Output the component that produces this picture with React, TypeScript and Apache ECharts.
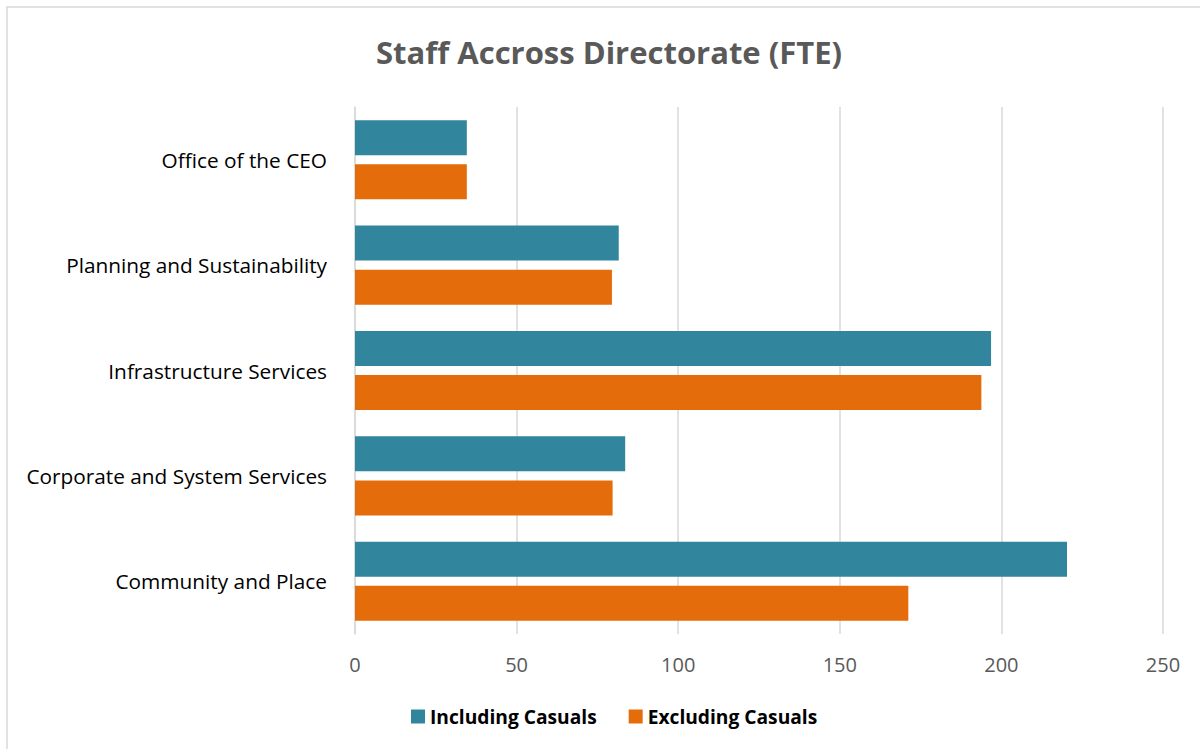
import React, { useEffect, useRef } from "react";
import * as echarts from "echarts";

const categories = [
  "Office of the CEO",
  "Planning and Sustainability",
  "Infrastructure Services",
  "Corporate and System Services",
  "Community and Place",
];
const includingCasuals = [34.6, 81.6, 196.8, 83.6, 220.3];
const excludingCasuals = [34.6, 79.5, 193.8, 79.7, 171.2];
const seriesNames = ["Including Casuals", "Excluding Casuals"];

const FONT = "'Open Sans', 'Liberation Sans', sans-serif";

export default function App() {
  const ref = useRef<HTMLDivElement>(null);
  useEffect(() => {
    if (!ref.current) return;
    const chart = echarts.init(ref.current, null, { renderer: "svg" });
    chart.setOption({
      animation: false,
      backgroundColor: "#ffffff",
      title: {
        text: "Staff Accross Directorate (FTE)",
        left: 371,
        top: 31,
        textStyle: { fontFamily: FONT, fontSize: 31, fontWeight: "bold", color: "#595959" },
      },
      graphic: [
        {
          type: "rect",
          shape: { x: 7, y: 7, width: 1300, height: 900 },
          style: { fill: "none", stroke: "#d9d9d9", lineWidth: 1.5 },
          silent: true,
        },
      ],
      legend: {
        bottom: 18,
        left: 406,
        itemWidth: 14,
        itemHeight: 14,
        itemGap: 32,
        icon: "rect",
        textStyle: { fontFamily: FONT, fontSize: 19.2, fontWeight: "bold", color: "#000000" },
        data: seriesNames,
      },
      grid: { left: 355, right: 37, top: 107, bottom: 115, containLabel: false },
      xAxis: {
        type: "value",
        min: 0,
        max: 250,
        interval: 50,
        axisLine: { show: false },
        axisTick: { show: false },
        splitLine: { show: true, lineStyle: { color: "#d9d9d9", width: 1.5 } },
        axisLabel: { fontFamily: FONT, fontSize: 20, color: "#595959", margin: 20 },
      },
      yAxis: {
        type: "category",
        inverse: true,
        data: categories,
        axisLine: { show: true, lineStyle: { color: "#d9d9d9", width: 1.5 } },
        axisTick: { show: false },
        axisLabel: { fontFamily: FONT, fontSize: 20.8, color: "#000000", margin: 28 },
      },
      series: [
        {
          name: seriesNames[0],
          type: "bar",
          data: includingCasuals,
          barWidth: 35,
          barGap: "26%",
          itemStyle: { color: "#31859c" },
        },
        {
          name: seriesNames[1],
          type: "bar",
          data: excludingCasuals,
          barWidth: 35,
          barGap: "26%",
          itemStyle: { color: "#e46c0a" },
        },
      ],
    });
    return () => chart.dispose();
  }, []);
  return (
    <div
      ref={ref}
      style={{ position: "fixed", left: 0, top: 0, width: 1200, height: 749 }}
    />
  );
}
